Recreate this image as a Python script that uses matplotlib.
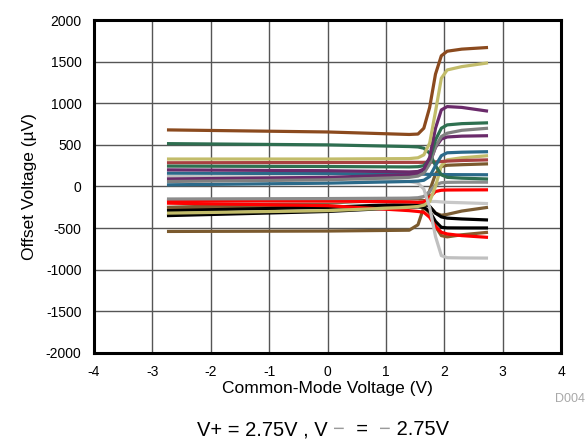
import matplotlib
matplotlib.use("Agg")
import matplotlib.pyplot as plt

plt.rcParams['font.family'] = ['Liberation Sans', 'DejaVu Sans']

# Common-mode voltage sample points (V)
vcm = [-2.75, 0, 1.4, 1.55, 1.65, 1.75, 1.85, 1.95, 2.05, 2.3, 2.75]

# Offset voltage curves (uV), one per unit
brown1 = [680, 655, 625, 630, 700, 950, 1350, 1570, 1625, 1650, 1670]
khaki1 = [330, 330, 335, 345, 380, 520, 900, 1300, 1400, 1440, 1485]
purple1 = [200, 190, 175, 180, 210, 350, 700, 920, 960, 950, 905]
green2 = [245, 240, 235, 238, 250, 330, 560, 700, 740, 755, 765]
gray1 = [60, 80, 110, 125, 160, 270, 480, 600, 640, 675, 700]
purple2 = [90, 110, 140, 150, 175, 280, 470, 570, 595, 605, 610]
blue1 = [20, 40, 60, 65, 75, 120, 250, 370, 405, 412, 418]
green1 = [515, 500, 480, 475, 460, 400, 250, 140, 110, 100, 90]
brick1 = [285, 288, 290, 290, 290, 292, 295, 300, 305, 312, 320]
blue2 = [160, 155, 150, 150, 148, 145, 145, 145, 143, 142, 141]
lgray2 = [120, 110, 60, 40, -30, -250, -600, -830, -855, -858, -860]
khaki2 = [-320, -290, -250, -240, -225, -180, 0, 250, 320, 345, 370]
brown3 = [-540, -535, -525, -460, -250, -50, 150, 240, 255, 262, 272]
gray2 = [-150, -145, -140, -135, -120, -60, 20, 45, 50, 52, 52]
red1 = [-170, -175, -185, -190, -185, -130, -60, -45, -42, -41, -40]
red2 = [-200, -230, -290, -300, -310, -370, -480, -550, -570, -590, -611]
black1 = [-290, -250, -210, -205, -210, -240, -320, -365, -380, -390, -402]
black2 = [-350, -300, -250, -245, -250, -300, -420, -490, -497, -498, -498]
lgray1 = [-180, -180, -185, -185, -185, -180, -180, -185, -190, -195, -205]
brown2 = [-250, -200, -150, -150, -170, -240, -320, -345, -335, -295, -250]
brown4 = [-260, -250, -240, -240, -250, -320, -480, -590, -605, -580, -550]

series = [
    (brown3, '#7B5A2E'), (brown4, '#8B5A2B'), (brown2, '#7A5C34'),
    (black2, '#000000'), (black1, '#000000'), (lgray1, '#C8C8C8'),
    (red2, '#FF0000'), (red1, '#FF0000'), (gray2, '#8C8C8C'),
    (khaki2, '#C2BC6A'), (lgray2, '#C0C0C0'), (blue2, '#2B6A8A'),
    (brick1, '#A84040'), (green1, '#2E6E50'), (blue1, '#2B6A8A'),
    (purple2, '#6A2A6A'), (gray1, '#808080'), (green2, '#2E7050'),
    (purple1, '#6A2A6A'), (khaki1, '#C2BC6A'), (brown1, '#8B4A1E'),
]

xticks = [-4, -3, -2, -1, 0, 1, 2, 3, 4]
yticks = [-2000, -1500, -1000, -500, 0, 500, 1000, 1500, 2000]

fig = plt.figure(figsize=(5.87, 4.40), dpi=100)
ax = fig.add_axes([94/587, 1-353/440, (561-94)/587, (353-20)/440])

for ys, c in series:
    ax.plot(vcm, ys, color=c, lw=2.3, solid_capstyle='butt', solid_joinstyle='round')

ax.set_xlim(-4, 4)
ax.set_ylim(-2000, 2000)
ax.set_xticks(xticks)
ax.set_yticks(yticks)
ax.set_xticklabels([str(v) for v in xticks])
ax.set_yticklabels([str(v) for v in yticks])
ax.grid(True, color='#555555', lw=1.0)
ax.set_axisbelow(True)
ax.tick_params(axis='x', length=0, labelsize=10, pad=9)
ax.tick_params(axis='y', length=0, labelsize=10, pad=9)
for s in ax.spines.values():
    s.set_linewidth(2.2)
    s.set_color('black')

ax.set_xlabel('Common-Mode Voltage (V)', fontsize=12.5, labelpad=1)
ax.set_ylabel('Offset Voltage (µV)', fontsize=12.5, labelpad=6)

fig.text(585/587, 1-399/440, 'D004', fontsize=9, color='#A8A8A8', ha='right', va='center')

# caption with grey minus signs, drawn piece by piece on a common baseline
pieces = [('V+ = 2.75V , V ', 'black'), ('\u2212', '#9A9A9A'), ('  =  ', 'black'),
          ('\u2212', '#9A9A9A'), (' 2.75V', 'black')]
cap_size = 14.5
fig.canvas.draw()
renderer = fig.canvas.get_renderer()
widths = []
for txt, col in pieces:
    t = fig.text(0, 0, txt, fontsize=cap_size)
    widths.append(t.get_window_extent(renderer).width)
    t.remove()
total = sum(widths)
x0 = 323 - total / 2
ybase = 440 - 435
for (txt, col), w in zip(pieces, widths):
    fig.text(x0 / 587, ybase / 440, txt, fontsize=cap_size, color=col,
             ha='left', va='baseline')
    x0 += w

fig.savefig('out.png', dpi=100)
